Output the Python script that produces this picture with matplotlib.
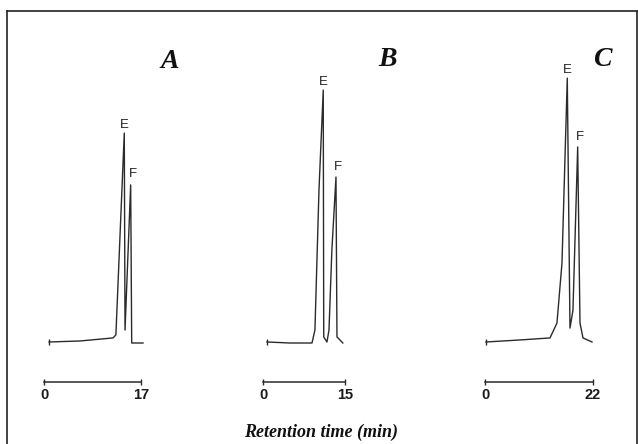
import matplotlib.pyplot as plt
from matplotlib.lines import Line2D

# chromatogram traces: time (min), detector response (rel. units, E in B = 100)
time_a = [0.9, 6.3, 12.1, 12.6, 14.07, 14.2, 15.19, 15.37, 17.35]
signal_a = [0.4, 0.8, 2.0, 3.2, 83.0, 5.1, 62.5, 0.0, 0.0]

time_b = [0.73, 4.9, 8.96, 9.5, 10.24, 11.02, 11.11, 11.7, 12.07, 12.6, 13.35, 13.53, 14.6]
signal_b = [0.4, 0.0, 0.0, 5.1, 60.5, 100.0, 2.4, 0.4, 5.1, 36.8, 65.6, 2.4, 0.0]

time_c = [0.2, 7.1, 13.24, 14.66, 15.68, 16.76, 17.31, 17.92, 18.88, 19.35, 19.96, 21.8]
signal_c = [0.4, 1.2, 2.0, 7.9, 31.6, 104.7, 5.9, 13.0, 77.5, 7.9, 2.0, 0.4]

panel_names = ["A", "B", "C"]
scale_ends = [17, 15, 22]  # length of the time scale bar (min)
peak_e = [(14.07, 83.0), (11.02, 100.0), (16.76, 104.7)]
peak_f = [(15.19, 62.5), (13.35, 65.6), (18.88, 77.5)]

W, H = 638, 444
BASE_PX = 343     # pixel row of zero response
PX_PER_UNIT = 2.53
BAR_PX = 382      # pixel row of the scale bar

# layout: axes span (px) and where 0 / end of the bar sit (px)
axes_px = [(10, 215), (230, 440), (455, 636)]
bar_px = [(44, 141), (263, 345), (485, 593)]
letter_px = [(170, 62), (388, 60), (602, 60)]
trace_color = "#2b2b2b"


def add_panel(fig, i, t, s):
    x0, x1 = axes_px[i]
    b0, b1 = bar_px[i]
    ax = fig.add_axes([x0 / W, 0, (x1 - x0) / W, 1])
    ppm = (b1 - b0) / scale_ends[i]
    ax.set_xlim((x0 - b0) / ppm, (x1 - b0) / ppm)
    ax.set_ylim((BASE_PX - H) / PX_PER_UNIT, BASE_PX / PX_PER_UNIT)
    ax.patch.set_visible(False)

    ax.plot(t, s, color=trace_color, lw=1.0, solid_joinstyle="round")
    ax.plot(t[0], s[0], marker="|", ms=5, mew=1.0, color=trace_color)

    for key in ["top", "right", "left"]:
        ax.spines[key].set_visible(False)
    sp = ax.spines["bottom"]
    sp.set_position(("data", (BASE_PX - BAR_PX) / PX_PER_UNIT))
    sp.set_bounds(0, scale_ends[i])
    sp.set_color(trace_color)
    sp.set_linewidth(1.1)
    ax.set_yticks([])
    ax.set_xticks([0, scale_ends[i]])
    ax.set_xticklabels(["0", str(scale_ends[i])])
    ax.tick_params(axis="x", direction="inout", length=5, width=1.0,
                   color=trace_color, pad=2, labelsize=10.5, labelcolor="#1a1a1a")
    for lab in ax.get_xticklabels():
        lab.set_fontfamily("Liberation Sans")
        lab.set_fontweight("bold")

    ex, ey = peak_e[i]
    fx, fy = peak_f[i]
    ax.annotate("E", (ex, ey), xytext=(0, 6), textcoords="offset points",
                ha="center", va="center", fontsize=9.5, color="#222222",
                family="Liberation Sans")
    ax.annotate("F", (fx, fy), xytext=(1.5, 7.5), textcoords="offset points",
                ha="center", va="center", fontsize=9.5, color="#222222",
                family="Liberation Sans")

    lx, ly = letter_px[i]
    fig.text(lx / W, 1 - ly / H, panel_names[i], ha="center", va="center",
             fontsize=20, fontweight="bold", fontstyle="italic",
             family="Liberation Serif", color="#111111")


fig = plt.figure(figsize=(W / 100, H / 100), dpi=100)

for i, (t, s) in enumerate([(time_a, signal_a), (time_b, signal_b), (time_c, signal_c)]):
    add_panel(fig, i, t, s)

fig.text(321 / W, 1 - 432 / H, "Retention time (min)", ha="center", va="center",
         fontsize=13, fontweight="bold", fontstyle="italic",
         family="Liberation Serif", color="#111111")

# frame around the figure (left, top, right)
frame_kw = dict(color="#222222", lw=1.2, transform=fig.transFigure)
fig.add_artist(Line2D([7 / W, 7 / W], [0, 1 - 11 / H], **frame_kw))
fig.add_artist(Line2D([7 / W, 637 / W], [1 - 11 / H, 1 - 11 / H], **frame_kw))
fig.add_artist(Line2D([637 / W, 637 / W], [0, 1 - 11 / H], **frame_kw))

fig.savefig("out.png", dpi=100)
